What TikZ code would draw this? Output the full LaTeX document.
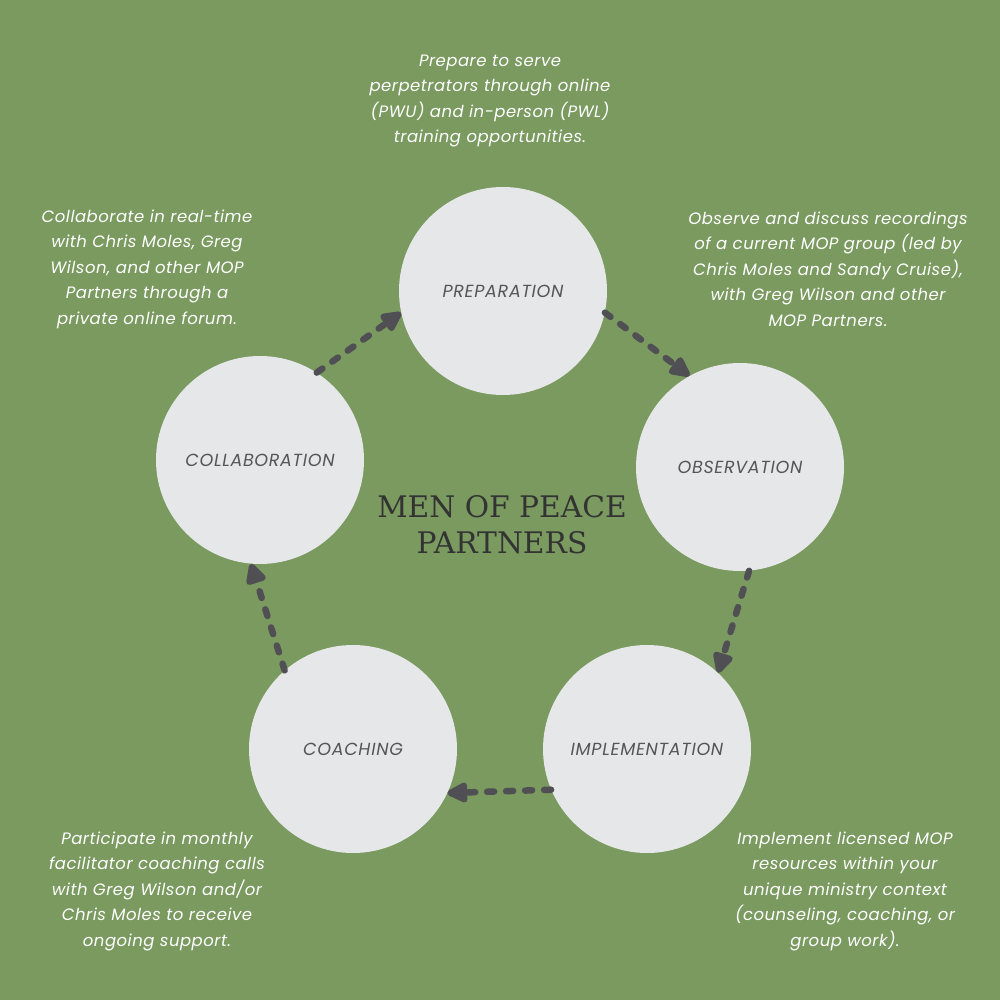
\documentclass[tikz,border=0pt]{standalone}
\usepackage{fontspec}
\setmainfont{Poppins}
\newfontfamily\titlefont{DejaVu Serif}
\usetikzlibrary{arrows.meta}

\definecolor{bggreen}{HTML}{7A9A60}
\definecolor{discgray}{HTML}{E6E7E9}
\definecolor{labelgray}{HTML}{56565A}
\definecolor{flowgray}{HTML}{505054}
\definecolor{titlegray}{HTML}{333333}

\newcommand*{\discsize}{208pt}

\begin{document}
\begin{tikzpicture}
[
	x=1pt, y=-1pt,
	phase/.style={circle,fill=discgray,inner sep=0pt,minimum size=\discsize,
		text=labelgray,font=\itshape\fontsize{17.5}{20}\selectfont\addfontfeature{LetterSpace=4}},
	note/.style={align=center,text=white,
		font=\itshape\fontsize{16.5}{25.5}\selectfont\addfontfeature{LetterSpace=3}},
	flow/.style={line width=6.5pt,flowgray,line cap=round,dash pattern=on 7pt off 12pt,
		-{Triangle[length=24pt,width=22pt,round=false]}}
]

	% background
	\fill[bggreen] (0,0) rectangle (1000,1000);
	\useasboundingbox (0,0) rectangle (1000,1000);

	% phases
	\node[phase] (prep) at (503,291) {PREPARATION};
	\node[phase] (obs) at (740,467) {OBSERVATION};
	\node[phase] (impl) at (647,749) {IMPLEMENTATION};
	\node[phase] (coach) at (353,749) {COACHING};
	\node[phase] (collab) at (260,460) {COLLABORATION};

	% title
	\node[align=center,text=titlegray,font=\titlefont\fontsize{29.7}{36}\selectfont] (title) at (502,525)
		{MEN OF PEACE\\PARTNERS};

	% cycle
	\draw[flow] (collab.57) -- (prep.192);
	\draw[flow] (prep.348) -- (obs.119);
	\draw[flow] (obs.275) -- (impl.47);
	\draw[flow] (impl.203) -- (coach.335);
	\draw[flow] (coach.131) -- (collab.265);

	% notes
	\node[note] (prepnote) at (490,101) {Prepare to serve\\perpetrators through online\\(PWU) and in-person (PWL)\\training opportunities.};
	\node[note] (obsnote) at (828,269) {Observe and discuss recordings\\of a current MOP group (led by\\Chris Moles and Sandy Cruise),\\with Greg Wilson and other\\MOP Partners.};
	\node[note] (collabnote) at (147,269) {Collaborate in real-time\\with Chris Moles, Greg\\Wilson, and other MOP\\Partners through a\\private online forum.};
	\node[note] (coachnote) at (157,891) {Participate in monthly\\facilitator coaching calls\\with Greg Wilson and/or\\Chris Moles to receive\\ongoing support.};
	\node[note] (implnote) at (845,891) {Implement licensed MOP\\resources within your\\unique ministry context\\(counseling, coaching, or\\group work).};

\end{tikzpicture}
\end{document}
